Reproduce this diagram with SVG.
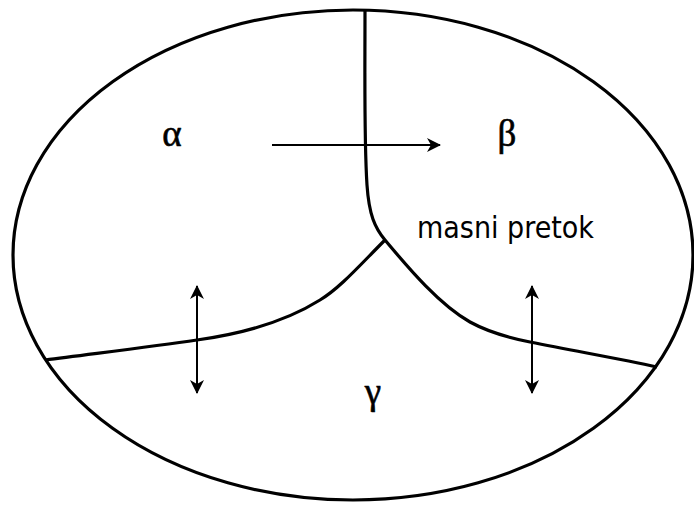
<svg xmlns="http://www.w3.org/2000/svg" width="694" height="506" viewBox="0 0 694 506">
<style>
.b{fill:none;stroke:#000;stroke-width:3.2;stroke-linejoin:round}
.a{fill:none;stroke:#000;stroke-width:2}
.g{font-family:"Liberation Serif",serif;font-size:37px;fill:#000;text-anchor:middle;stroke:#000;stroke-width:0.6}
.t{font-family:"DejaVu Sans Condensed","DejaVu Sans",sans-serif;font-size:30px;fill:#000}
</style>
<defs>
<marker id="ah" markerUnits="userSpaceOnUse" markerWidth="16" markerHeight="16" refX="13" refY="7" orient="auto-start-reverse">
<path d="M0,0 L14,7 L0,14 L4,7 z" fill="#000"/>
</marker>
</defs>
<g id="outline"><ellipse class="b" cx="353" cy="255" rx="340" ry="245"/></g>
<g id="boundaries">
<path class="b" d="M365,10 C365,80 364,140 367,185 C369,215 375,228 385,240 C410,270 440,305 470,322 C490,333 510,338 530,342 C580,352 620,359 657,367"/>
<path class="b" d="M385,240 C360,265 340,288 320,300 C285,322 240,334 197,340 C150,347 90,354 45,360"/>
</g>
<g id="connectors">
<line class="a" x1="272" y1="145" x2="440" y2="145" marker-end="url(#ah)"/>
<line class="a" x1="197" y1="286" x2="197" y2="393" marker-start="url(#ah)" marker-end="url(#ah)"/>
<line class="a" x1="532" y1="286" x2="532" y2="393" marker-start="url(#ah)" marker-end="url(#ah)"/>
</g>
<g id="alpha"><text class="g" x="172" y="146">α</text></g>
<g id="beta"><text class="g" x="507" y="146">β</text></g>
<g id="gamma"><text class="g" x="373" y="404">γ</text></g>
<g id="label"><text class="t" x="417" y="238">masni pretok</text></g>
</svg>
